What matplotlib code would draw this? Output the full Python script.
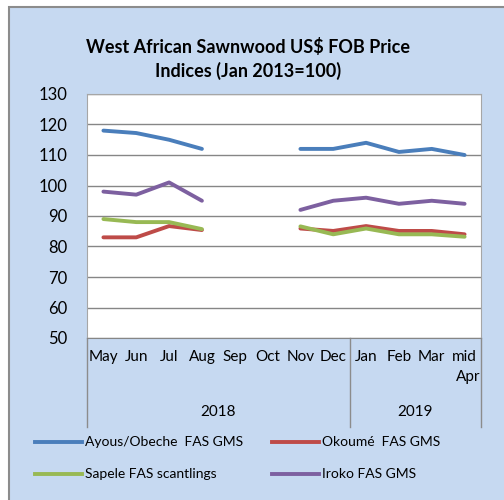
import numpy as np
import matplotlib
matplotlib.use('Agg')
import matplotlib.pyplot as plt
from matplotlib.patches import Rectangle
from matplotlib.lines import Line2D
import matplotlib.transforms as mtransforms

plt.rcParams['font.family'] = ['Lato', 'DejaVu Sans']

months = ['May', 'Jun', 'Jul', 'Aug', 'Sep', 'Oct', 'Nov', 'Dec',
          'Jan', 'Feb', 'Mar', 'mid\nApr']
years = ['2018', '2019']
nan = np.nan
ayous = [118, 117.2, 115, 112, nan, nan, 112, 112, 114, 111, 112, 110]
okoume = [83, 83, 86.7, 85.4, nan, nan, 85.9, 85.1, 86.7, 85.1, 85.1, 84]
sapele = [89, 88, 88, 85.7, nan, nan, 86.6, 84, 85.9, 84, 84, 83.2]
iroko = [98, 97, 101, 95, nan, nan, 92, 95, 96, 94, 95, 94]
names = ['Ayous/Obeche  FAS GMS', 'Okoumé  FAS GMS',
         'Sapele FAS scantlings', 'Iroko FAS GMS']
colors = ['#4A7EBB', '#BE4B48', '#98B954', '#7D60A0']

bg = '#C6D9F1'
fig = plt.figure(figsize=(5.04, 5.0), dpi=100)
fig.patch.set_facecolor('white')
fig.patches.append(Rectangle((9/504, -0.1), 1.2, 1 - 7/500 + 0.1,
                             transform=fig.transFigure, facecolor=bg,
                             edgecolor='#8C8C8C', lw=1.5, zorder=-1))

ax = fig.add_axes([87/504, 162/500, 394/504, 244/500])
ax.set_facecolor('white')
x = np.arange(len(months)) + 0.5
for vals, c in zip([ayous, okoume, sapele, iroko], colors):
    ax.plot(x, vals, color=c, lw=2.8, solid_capstyle='round')

ax.set_xlim(0, 12)
ax.set_ylim(50, 130)
ax.set_yticks(np.arange(50, 131, 10))
ax.tick_params(axis='y', length=0, labelsize=12, pad=14)
ax.set_xticks([])
ax.grid(axis='y', color='#868686', lw=1)
ax.set_axisbelow(True)
for s in ['top', 'left', 'right']:
    ax.spines[s].set_color('#A6A6A6')
ax.spines['bottom'].set_color('#868686')

trans = mtransforms.blended_transform_factory(ax.transData, ax.transAxes)
for xi, m in zip(x, months):
    if '\n' in m:
        ax.text(xi, -0.05, 'mid', transform=trans, ha='center', va='top', fontsize=11)
        ax.text(xi + 0.12, -0.13, 'Apr', transform=trans, ha='center', va='top', fontsize=11)
    else:
        ax.text(xi, -0.05, m, transform=trans, ha='center', va='top', fontsize=11)
ax.text(4, -0.275, years[0], transform=trans, ha='center', va='top', fontsize=11)
ax.text(10, -0.275, years[1], transform=trans, ha='center', va='top', fontsize=11)
for xs in [0, 8, 12]:
    ax.plot([xs, xs], [0, -0.365], transform=trans, color='#8C8C8C', lw=1, clip_on=False)

fig.text(248/504, 1 - 47/500, 'West African Sawnwood US$ FOB Price',
         ha='center', va='center', fontsize=13, fontweight='bold')
fig.text(248/504, 1 - 71/500, 'Indices (Jan 2013=100)',
         ha='center', va='center', fontsize=13, fontweight='bold')

# legend drawn by hand in two columns
leg_pos = [(35, 442), (272, 442), (35, 474), (272, 474)]
for (lx, ly), n, c in zip(leg_pos, names, colors):
    fig.add_artist(Line2D([lx/504, (lx + 47)/504], [1 - ly/500, 1 - ly/500],
                          color=c, lw=2.8, transform=fig.transFigure))
    fig.text((lx + 50)/504, 1 - ly/500, n, ha='left', va='center', fontsize=10)

fig.savefig('out.png', dpi=100, facecolor=fig.get_facecolor())
